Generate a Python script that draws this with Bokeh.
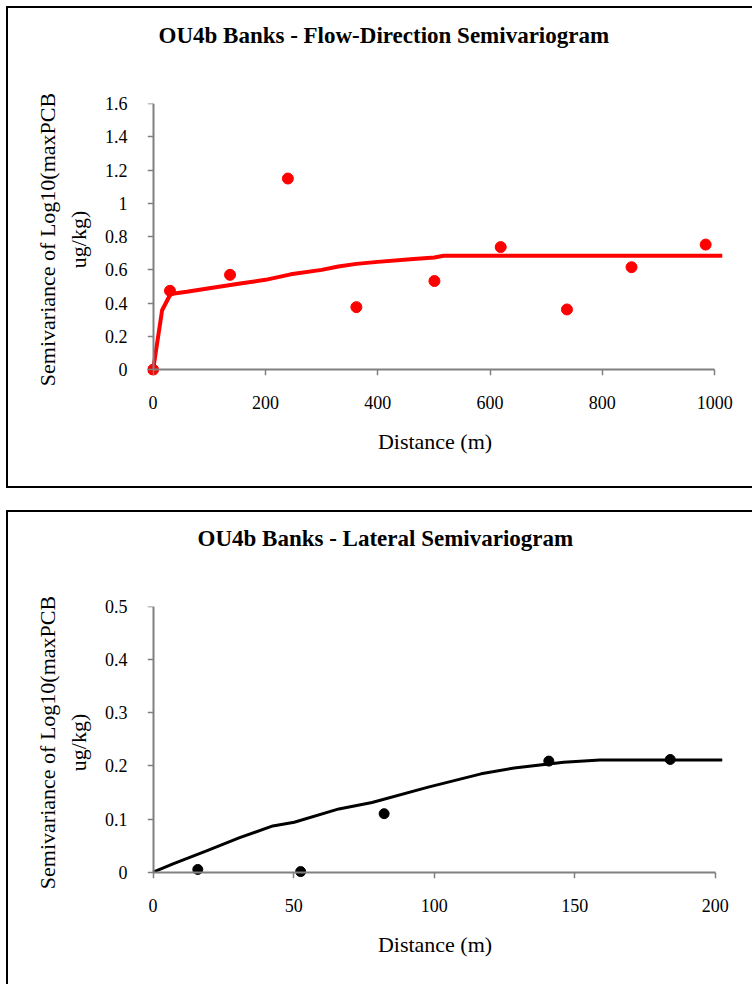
from bokeh.plotting import figure
from bokeh.layouts import column
from bokeh.models import Range1d, FixedTicker, NumeralTickFormatter, LinearAxis, Title
from bokeh.embed import file_html
from bokeh.resources import INLINE

FONT = "Liberation Serif"

# ---- Data: flow-direction semivariogram ----
flow_lag = [0, 30, 137, 240, 362, 501, 619, 737, 852, 984]
flow_gamma = [0.0, 0.474, 0.570, 1.149, 0.376, 0.533, 0.737, 0.362, 0.616, 0.752]
flow_model_lag = [0, 16, 31, 60, 100, 155, 200, 245, 300, 330, 362, 400, 458, 501, 517, 1014]
flow_model_gamma = [0, 0.357, 0.455, 0.468, 0.49, 0.518, 0.54, 0.573, 0.60, 0.62, 0.636,
                    0.648, 0.664, 0.674, 0.685, 0.685]
flow_xticks = [0, 200, 400, 600, 800, 1000]
flow_yticks = [0, 0.2, 0.4, 0.6, 0.8, 1.0, 1.2, 1.4, 1.6]

# ---- Data: lateral semivariogram ----
lat_lag = [15.9, 52.5, 82.2, 140.8, 184]
lat_gamma = [0.005, 0.001, 0.110, 0.209, 0.212]
lat_model_lag = [0, 7.3, 19, 30.8, 42.6, 50.2, 66.1, 77.9, 97.9, 116.7, 128.5, 146.1, 159, 202.6]
lat_model_gamma = [0, 0.016, 0.040, 0.065, 0.087, 0.094, 0.119, 0.131, 0.160, 0.185, 0.196,
                   0.207, 0.211, 0.211]
lat_xticks = [0, 50, 100, 150, 200]
lat_yticks = [0, 0.1, 0.2, 0.3, 0.4, 0.5]

YLABEL = "Semivariance of Log10(maxPCB\nug/kg)"
XLABEL = "Distance (m)"
AXIS_GRAY = "#808080"


def panel(title, title_offset, xr, yr, xticks, yticks, height, mb, css):
    p = figure(width=746, height=height, x_range=Range1d(*xr), y_range=Range1d(*yr),
               output_backend="svg", toolbar_location=None, title=None,
               min_border_left=mb[0], min_border_right=mb[1],
               min_border_top=mb[2], min_border_bottom=mb[3])
    p.outline_line_color = None
    p.xgrid.visible = False
    p.ygrid.visible = False
    p.background_fill_color = "white"
    p.border_fill_color = "white"

    # axes at the frame edges: tick labels and titles only
    for ax, ticks in ((p.xaxis[0], xticks), (p.yaxis[0], yticks)):
        ax.ticker = FixedTicker(ticks=ticks)
        ax.formatter = NumeralTickFormatter(format="0.[0]")
        ax.axis_line_color = None
        ax.major_tick_line_color = None
        ax.minor_tick_line_color = None
        ax.major_tick_out = 0
        ax.major_tick_in = 0
        ax.minor_tick_out = 0
        ax.minor_tick_in = 0
        ax.major_label_text_font = FONT
        ax.major_label_text_font_size = "18px"
        ax.major_label_text_color = "black"
        ax.axis_label_text_font = FONT
        ax.axis_label_text_font_size = "22px"
        ax.axis_label_text_font_style = "normal"
        ax.axis_label_text_color = "black"
        ax.axis_label_text_line_height = 1.25
    p.xaxis.axis_label = XLABEL
    p.yaxis.axis_label = YLABEL
    p.xaxis.major_label_standoff = 20
    p.yaxis.major_label_standoff = 20
    p.xaxis.axis_label_standoff = 17
    p.yaxis.axis_label_standoff = 11

    # axis lines and ticks drawn through zero
    xline = LinearAxis(ticker=FixedTicker(ticks=xticks), bounds=(xticks[0], xticks[-1]),
                       fixed_location=0)
    yline = LinearAxis(ticker=FixedTicker(ticks=yticks), bounds=(yticks[0], yticks[-1]),
                       fixed_location=0)
    for ax in (xline, yline):
        ax.axis_line_color = AXIS_GRAY
        ax.axis_line_width = 2
        ax.major_tick_line_color = AXIS_GRAY
        ax.major_tick_line_width = 1.5
        ax.major_tick_out = 0
        ax.major_tick_in = 6
        ax.minor_tick_line_color = None
        ax.minor_tick_out = 0
        ax.minor_tick_in = 0
        ax.major_label_standoff = 0
        ax.major_label_text_font_size = "0px"
        ax.major_label_text_alpha = 0
    p.add_layout(xline, "above")
    p.add_layout(yline, "right")

    # blank spacer between the plot area and the chart title
    spacer = Title(text=" ", standoff=48, text_font=FONT, text_font_size="1px")
    p.add_layout(spacer, "above")

    t = Title(text=title, align="left", offset=title_offset, standoff=10,
              text_font=FONT, text_font_size="23px", text_font_style="bold",
              text_color="black")
    p.add_layout(t, "above")
    p.styles = css
    return p


top = panel("OU4b Banks - Flow-Direction Semivariogram", 11,
            (-10, 1014), (-0.035, 1.6),
            flow_xticks, flow_yticks, 482, (139, 32, 95, 115),
            {"border-left": "2px solid black", "border-top": "2px solid black",
             "border-bottom": "2px solid black"})
top.line(flow_model_lag, flow_model_gamma, line_color="#FF0000", line_width=4)
top.scatter(flow_lag, flow_gamma, size=11, fill_color="#FF0000", line_color="#FF0000")
top.margin = (6, 0, 0, 6)

bot = panel("OU4b Banks - Lateral Semivariogram", 50,
            (-2, 202.6), (-0.012, 0.5),
            lat_xticks, lat_yticks, 474, (139, 26, 94, 108),
            {"border-left": "2px solid black", "border-top": "2px solid black"})
bot.line(lat_model_lag, lat_model_gamma, line_color="black", line_width=3)
bot.scatter(lat_lag, lat_gamma, size=10, fill_color="black", line_color="black")
bot.margin = (22, 0, 0, 6)

layout = column(top, bot, spacing=0)
open("out.html", "w").write(file_html(layout, INLINE))
